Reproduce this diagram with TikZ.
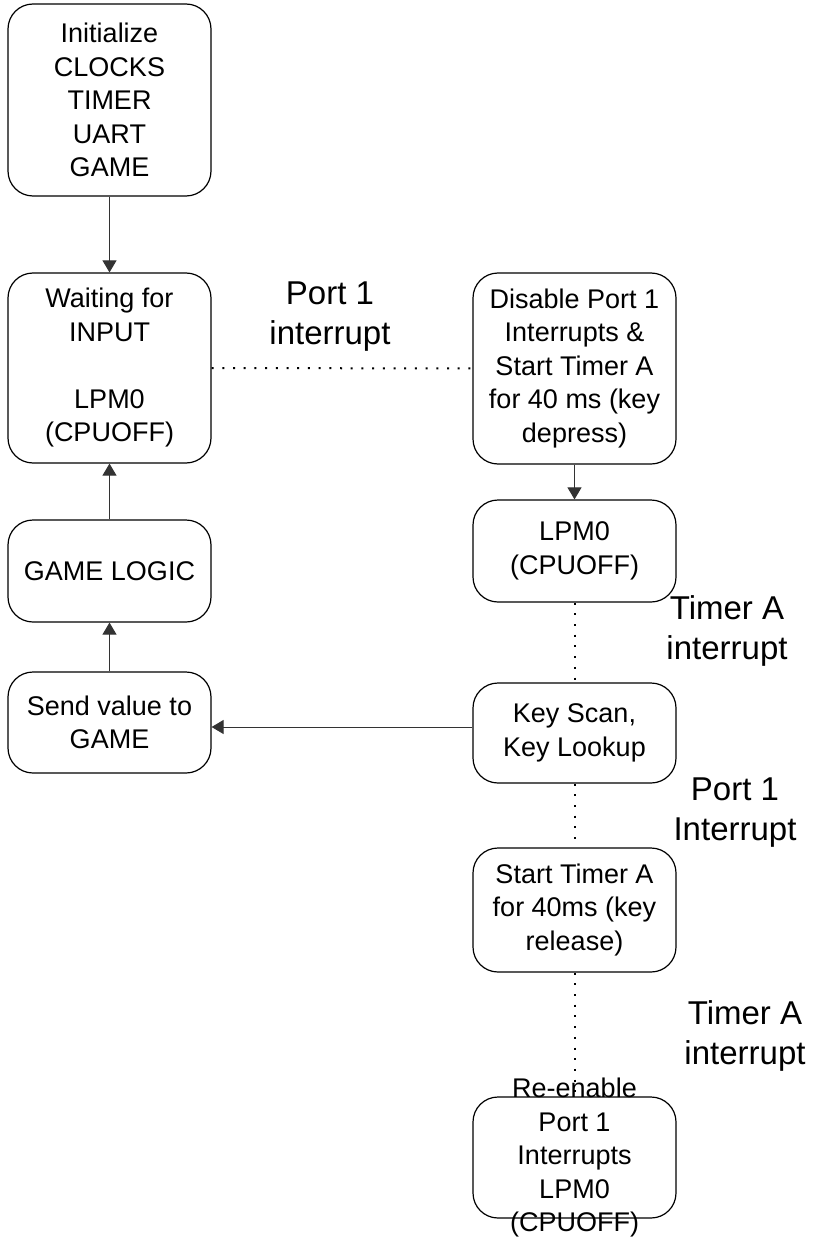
\documentclass[tikz,border=0pt]{standalone}
\usepackage{fontspec}
\setmainfont{Liberation Sans}
\usetikzlibrary{arrows.meta}

\begin{document}
\begin{tikzpicture}[x=1pt, y=-1pt,
  box/.style={draw, line width=1.2pt, rounded corners=25pt,
              minimum width=203pt, inner sep=0pt},
  boxtext/.style={align=center, font=\fontsize{27}{33.5}\selectfont},
  note/.style={align=center, font=\fontsize{33}{40}\selectfont},
  flow/.style={draw=black!80, line width=1pt, -{Triangle[width=14pt,length=12pt]}},
  irq/.style={line width=2pt, dash pattern=on 2pt off 8.7pt}
]
\useasboundingbox (0,0) rectangle (812,1241);

% main loop (left column)
\node[box, minimum height=192pt, label={[boxtext]center:{Initialize\\CLOCKS\\TIMER\\UART\\GAME}}] (init) at (109.5,100) {};
\node[box, minimum height=190pt, label={[boxtext]center:{Waiting for\\INPUT\\[33.5pt]LPM0\\(CPUOFF)}}] (wait) at (109.5,368) {};
\node[box, minimum height=102pt, label={[boxtext]center:{GAME LOGIC}}] (logic) at (109.5,571) {};
\node[box, minimum height=101pt, label={[boxtext]center:{Send value to\\GAME}}] (send) at (109.5,722.5) {};

% keypad handling (right column)
\node[box, minimum height=191pt, label={[boxtext]center:{Disable Port 1\\Interrupts \&\\Start Timer A\\for 40 ms (key\\depress)}}] (disable) at (574.5,368.5) {};
\node[box, minimum height=102pt, label={[boxtext]center:{LPM0\\(CPUOFF)}}] (lpm) at (574.5,551) {};
\node[box, minimum height=100pt, label={[boxtext]center:{Key Scan,\\Key Lookup}}] (scan) at (574.5,733) {};
\node[box, minimum height=124pt, label={[boxtext]center:{Start Timer A\\for 40ms (key\\release)}}] (start) at (574.5,910) {};
\node[box, minimum height=121pt, label={[boxtext]center:{Re-enable\\Port 1\\Interrupts\\LPM0\\(CPUOFF)}}] (reen) at (574.5,1157.5) {};

% interrupt labels
\node[note] (n1) at (330,317) {Port 1\\interrupt};
\node[note] (n2) at (727,631) {Timer A\\interrupt};
\node[note] (n3) at (735,813) {Port 1\\Interrupt};
\node[note] (n4) at (745,1036) {Timer A\\interrupt};

% program flow
\draw[flow] (init) -- (wait);
\draw[flow] (logic) -- (wait);
\draw[flow] (send) -- (logic);
\draw[flow] (disable) -- (lpm);
\coordinate (row) at (0,727);
\draw[flow] (scan.west |- row) -- (send.east |- row);

% interrupt events
\draw[irq] (wait.east) -- (disable.west);
\draw[irq] (lpm.south) -- (scan.north);
\draw[irq] (scan.south) -- (start.north);
\draw[irq] (start.south) -- (reen.north);
\end{tikzpicture}
\end{document}
